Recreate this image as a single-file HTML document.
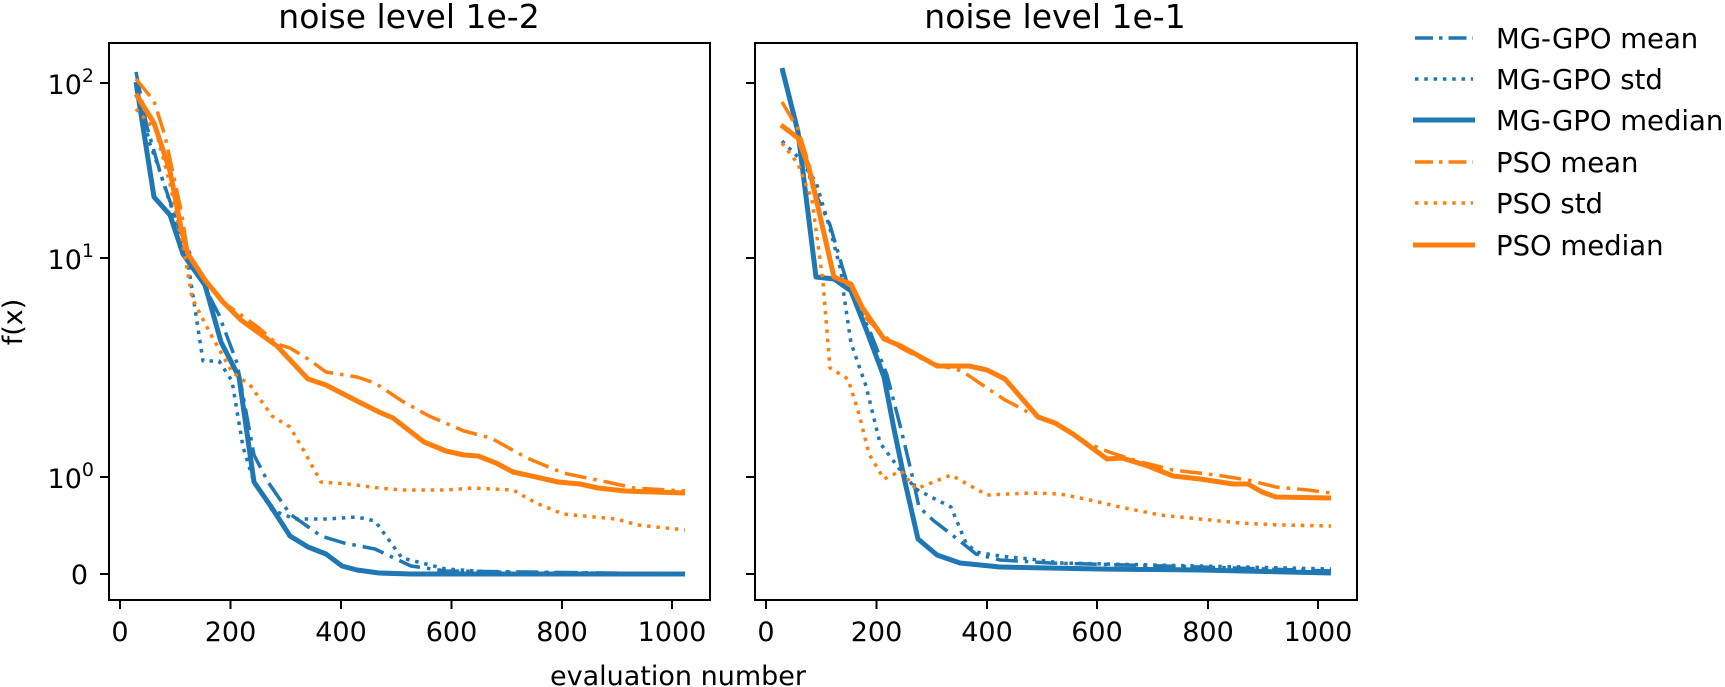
<!DOCTYPE html>
<html><head><meta charset="utf-8"><style>
html,body{margin:0;padding:0;background:#fff;}
svg{display:block;}
text{font-family:"DejaVu Sans","Liberation Sans",sans-serif;fill:#000;}
</style></head><body>
<svg width="1725" height="687" viewBox="0 0 1725 687" xmlns="http://www.w3.org/2000/svg">
<defs>
<clipPath id="cl"><rect x="109" y="43" width="601" height="557"/></clipPath>
<clipPath id="cr"><rect x="755" y="43" width="602" height="557"/></clipPath>
</defs>
<!-- titles -->
<text x="409" y="28" font-size="33" text-anchor="middle">noise level 1e-2</text>
<text x="1055" y="28" font-size="33" text-anchor="middle">noise level 1e-1</text>

<!-- left panel curves -->
<g clip-path="url(#cl)" fill="none" stroke-linejoin="round">
<polyline stroke="#1f77b4" stroke-width="5" points="136,82 154,197 170,215 183,254 205,285 221,342 239,377 254,482 272,508 290,536 308,547 326,554 342,566 357,570 379,573 411,574 685,574"/>
<polyline stroke="#1f77b4" stroke-width="3.5" stroke-dasharray="22 7 3.5 7" points="136,72 147,127 161,175 179,228 201,280 219,315 237,363 254,455 268,482 290,514 321,536 344,543 375,549 411,566 446,571 685,574"/>
<polyline stroke="#1f77b4" stroke-width="3.5" stroke-dasharray="3.5 5.8" points="136,88 150,144 158,166 174,215 188,263 203,361 219,361 232,381 243,447 254,482 272,510 295,519 326,519 357,517 375,521 402,558 446,569 491,572 685,574"/>
<polyline stroke="#ff7f0e" stroke-width="5" points="136,94 154,123 170,171 181,228 188,254 205,280 223,302 241,320 259,333 277,346 308,379 326,385 357,401 379,412 393,418 424,442 446,451 464,455 478,456 496,463 513,472 536,477 558,482 580,484 598,488 625,491 685,493"/>
<polyline stroke="#ff7f0e" stroke-width="3.5" stroke-dasharray="22 7 3.5 7" points="136,79 154,101 165,136 181,210 188,254 205,280 223,302 259,328 277,344 290,348 308,359 326,372 357,377 375,383 402,401 429,416 464,431 491,438 527,458 563,473 607,482 634,488 685,491"/>
<polyline stroke="#ff7f0e" stroke-width="3.5" stroke-dasharray="3.5 5.8" points="136,109 156,131 170,184 183,245 192,298 210,333 232,372 250,385 272,416 290,427 304,451 321,482 348,484 379,488 402,490 446,490 473,488 513,490 536,503 563,514 616,519 638,525 685,530"/>
</g>

<!-- right panel curves -->
<g clip-path="url(#cr)" fill="none" stroke-linejoin="round">
<polyline stroke="#1f77b4" stroke-width="5" points="782,68 798,132 816,277 834,279 851,291 866,329 884,377 894,429 905,482 918,539 937,555 960,563 1000,567 1100,569 1200,570 1331,573"/>
<polyline stroke="#1f77b4" stroke-width="3.5" stroke-dasharray="22 7 3.5 7" points="782,71 798,129 812,186 830,225 842,266 848,286 869,329 887,375 901,429 912,475 919,507 934,521 951,534 966,546 976,554 1000,560 1050,563 1200,567 1331,571"/>
<polyline stroke="#1f77b4" stroke-width="3.5" stroke-dasharray="3.5 5.8" points="782,141 798,157 816,182 830,229 841,271 844,296 851,343 866,386 880,443 901,471 916,489 937,500 951,507 966,543 976,552 1000,556 1030,559 1060,563 1200,566 1331,569"/>
<polyline stroke="#ff7f0e" stroke-width="5" points="781,125 798,138 809,168 834,277 851,284 862,307 884,339 901,346 937,366 969,366 987,370 1005,379 1038,417 1055,423 1073,434 1088,445 1107,459 1122,458 1148,466 1173,476 1200,479 1233,484 1248,484 1262,492 1276,497 1331,498"/>
<polyline stroke="#ff7f0e" stroke-width="3.5" stroke-dasharray="22 7 3.5 7" points="782,102 798,129 810,168 834,277 851,286 866,318 884,336 901,348 930,363 962,371 984,386 1005,400 1026,411 1037,416 1055,423 1073,434 1087,443 1109,452 1137,461 1173,470 1216,475 1248,480 1276,487 1308,490 1331,493"/>
<polyline stroke="#ff7f0e" stroke-width="3.5" stroke-dasharray="3.5 5.8" points="782,143 798,164 812,200 823,282 830,368 848,379 859,414 869,454 884,479 901,471 916,489 951,475 987,495 1030,493 1060,494 1090,500 1120,507 1160,515 1200,519 1240,523 1280,525 1331,526"/>
</g>

<!-- axes frames -->
<rect x="109" y="43" width="601" height="557" fill="none" stroke="#000" stroke-width="2"/>
<rect x="755" y="43" width="602" height="557" fill="none" stroke="#000" stroke-width="2"/>

<!-- y ticks -->
<g stroke="#000" stroke-width="2">
<line x1="100" y1="83" x2="109" y2="83"/><line x1="100" y1="258" x2="109" y2="258"/>
<line x1="100" y1="477" x2="109" y2="477"/><line x1="100" y1="574" x2="109" y2="574"/>
<line x1="746" y1="83" x2="755" y2="83"/><line x1="746" y1="258" x2="755" y2="258"/>
<line x1="746" y1="477" x2="755" y2="477"/><line x1="746" y1="574" x2="755" y2="574"/>
</g>
<g font-size="27" text-anchor="end">
<text x="94" y="94">10<tspan font-size="19" dy="-12">2</tspan></text>
<text x="94" y="269">10<tspan font-size="19" dy="-12">1</tspan></text>
<text x="94" y="488">10<tspan font-size="19" dy="-12">0</tspan></text>
<text x="88" y="584">0</text>
</g>
<text transform="translate(22,322) rotate(-90)" font-size="27" text-anchor="middle">f(x)</text>

<!-- x ticks -->
<g stroke="#000" stroke-width="2">
<line x1="120" y1="600" x2="120" y2="609"/><line x1="230.5" y1="600" x2="230.5" y2="609"/>
<line x1="341" y1="600" x2="341" y2="609"/><line x1="451.5" y1="600" x2="451.5" y2="609"/>
<line x1="562" y1="600" x2="562" y2="609"/><line x1="672" y1="600" x2="672" y2="609"/>
<line x1="766" y1="600" x2="766" y2="609"/><line x1="876.5" y1="600" x2="876.5" y2="609"/>
<line x1="987" y1="600" x2="987" y2="609"/><line x1="1097" y1="600" x2="1097" y2="609"/>
<line x1="1208" y1="600" x2="1208" y2="609"/><line x1="1318" y1="600" x2="1318" y2="609"/>
</g>
<g font-size="27" text-anchor="middle">
<text x="120" y="641">0</text><text x="230.5" y="641">200</text><text x="341" y="641">400</text>
<text x="451.5" y="641">600</text><text x="562" y="641">800</text><text x="672" y="641">1000</text>
<text x="766" y="641">0</text><text x="876.5" y="641">200</text><text x="987" y="641">400</text>
<text x="1097" y="641">600</text><text x="1208" y="641">800</text><text x="1318" y="641">1000</text>
</g>
<text x="678" y="685" font-size="27" text-anchor="middle">evaluation number</text>

<!-- legend -->
<g fill="none">
<line x1="1415" y1="38" x2="1473" y2="38" stroke="#1f77b4" stroke-width="3.5" stroke-dasharray="18 6 3.5 6"/>
<line x1="1415" y1="79" x2="1473" y2="79" stroke="#1f77b4" stroke-width="3.5" stroke-dasharray="3.5 5.8"/>
<line x1="1413" y1="120" x2="1475" y2="120" stroke="#1f77b4" stroke-width="5"/>
<line x1="1415" y1="162" x2="1473" y2="162" stroke="#ff7f0e" stroke-width="3.5" stroke-dasharray="18 6 3.5 6"/>
<line x1="1415" y1="203" x2="1473" y2="203" stroke="#ff7f0e" stroke-width="3.5" stroke-dasharray="3.5 5.8"/>
<line x1="1413" y1="245" x2="1475" y2="245" stroke="#ff7f0e" stroke-width="5"/>
</g>
<g font-size="27.5">
<text x="1496" y="48">MG-GPO mean</text>
<text x="1496" y="89">MG-GPO std</text>
<text x="1496" y="130">MG-GPO median</text>
<text x="1496" y="172">PSO mean</text>
<text x="1496" y="213">PSO std</text>
<text x="1496" y="255">PSO median</text>
</g>
</svg>
</body></html>
